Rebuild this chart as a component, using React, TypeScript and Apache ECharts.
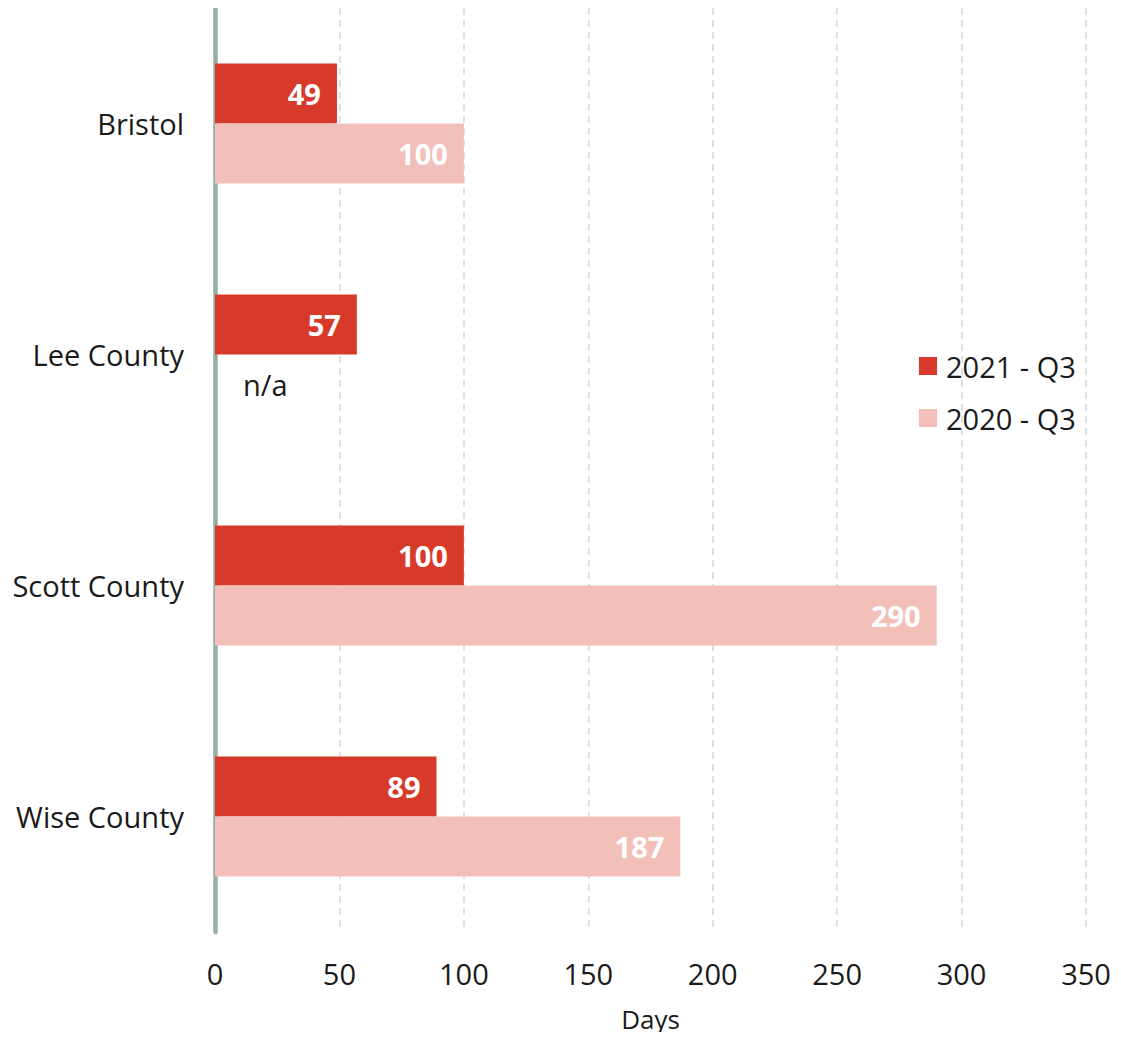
import React, { useEffect, useRef } from "react";
import * as echarts from "echarts";

const categories = ["Bristol", "Lee County", "Scott County", "Wise County"];
const series2021 = [49, 57, 100, 89];
const series2020: (number | null)[] = [100, null, 290, 187];
const seriesNames = ["2021 - Q3", "2020 - Q3"];
const xTicks = { min: 0, max: 350, interval: 50 };

const FONT = "'Open Sans', 'Noto Sans', sans-serif";
const TEXT = "#1a1a1a";
const FS = 29;

export default function App() {
  const ref = useRef<HTMLDivElement>(null);
  useEffect(() => {
    if (!ref.current) return;
    const chart = echarts.init(ref.current, null, { renderer: "svg" });
    const valueLabel = {
      show: true,
      position: "insideRight",
      distance: 16,
      color: "#ffffff",
      fontWeight: "bold",
      fontSize: FS,
      fontFamily: FONT,
    };
    chart.setOption({
      animation: false,
      textStyle: { fontFamily: FONT },
      grid: { left: 215, right: 35, top: 8, bottom: 108, containLabel: false },
      legend: {
        orient: "vertical",
        left: 914,
        top: 346,
        itemWidth: 18,
        itemHeight: 18,
        itemGap: 22,
        icon: "rect",
        textStyle: { fontSize: FS, color: TEXT, fontFamily: FONT, lineHeight: 30, padding: [0, 0, 0, 4] },
        data: seriesNames,
      },
      xAxis: {
        type: "value",
        min: xTicks.min,
        max: xTicks.max,
        interval: xTicks.interval,
        name: "Days",
        nameLocation: "middle",
        nameGap: 74,
        nameTextStyle: { fontSize: 26, color: TEXT, fontFamily: FONT },
        axisLine: { show: false },
        axisTick: { show: false },
        axisLabel: { fontSize: FS, color: TEXT, margin: 27, fontFamily: FONT },
        splitLine: { show: true, lineStyle: { color: "#d6d6d6", width: 1.5, type: [7, 5] } },
      },
      yAxis: {
        type: "category",
        data: categories,
        inverse: true,
        axisLine: { show: true, lineStyle: { color: "#95b0a1", width: 4.5 } },
        axisTick: { show: false },
        axisLabel: { fontSize: FS, color: TEXT, margin: 31, fontFamily: FONT, padding: [0, 0, 4, 0] },
        splitLine: { show: false },
      },
      series: [
        {
          name: seriesNames[0],
          type: "bar",
          data: series2021,
          barWidth: 60,
          barGap: "0%",
          itemStyle: { color: "#d73a2a" },
          label: valueLabel,
          z: 1,
        },
        {
          name: seriesNames[1],
          type: "bar",
          data: series2020.map((v) =>
            v === null
              ? {
                  value: 0,
                  label: {
                    show: true,
                    position: "right",
                    distance: 28,
                    formatter: "n/a",
                    color: TEXT,
                    fontWeight: "normal",
                    fontSize: FS,
                    fontFamily: FONT,
                  },
                }
              : v
          ),
          barWidth: 60,
          barGap: "0%",
          itemStyle: { color: "#f2bfb9" },
          label: valueLabel,
          z: 1,
        },
      ],
    });
    return () => chart.dispose();
  }, []);
  return <div ref={ref} style={{ width: 1121, height: 1040, margin: -8 }} />;
}
